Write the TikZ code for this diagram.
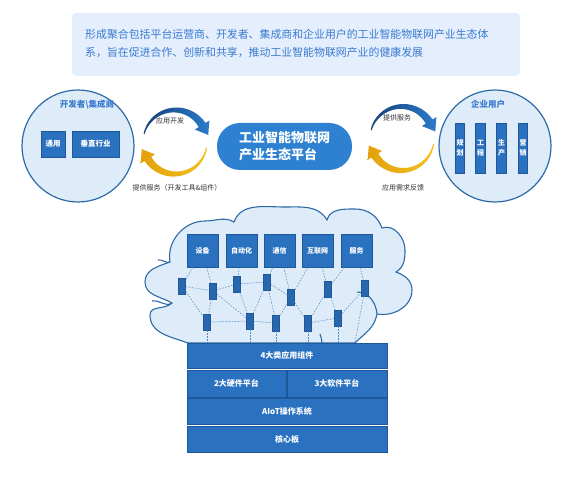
\documentclass[tikz,border=0pt]{standalone}
\usepackage{fontspec}
\setmainfont{Noto Sans CJK SC}
\usetikzlibrary{arrows.meta}

\definecolor{bannerbg}{HTML}{E4EEFC}
\definecolor{bannertext}{HTML}{3A7BD0}
\definecolor{paleblue}{HTML}{DEEBF8}
\definecolor{edgeblue}{HTML}{2C6AA8}
\definecolor{boxblue}{HTML}{2A72C0}
\definecolor{boxedge}{HTML}{1E5898}
\definecolor{pillblue}{HTML}{2E80D0}
\definecolor{arrowdark}{HTML}{163F78}
\definecolor{arrowblue}{HTML}{2B7BCB}
\definecolor{arrowgold}{HTML}{F4C020}
\definecolor{arrowamber}{HTML}{E3A10C}
\definecolor{linkblue}{HTML}{4A8AC6}
\definecolor{labelgray}{HTML}{333333}

\tikzset{
  bluebox/.style={draw=boxedge, fill=boxblue, line width=0.6pt, text=white,
    font=\bfseries\fontsize{7.5}{9}\selectfont, inner sep=0pt},
  layer/.style={bluebox, minimum height=25pt, font=\bfseries\fontsize{8}{9}\selectfont},
  chip/.style={draw=boxedge, fill=boxblue!90!black, line width=0.4pt,
    minimum width=7pt, minimum height=16pt, inner sep=0pt},
  link/.style={linkblue, dash pattern=on 1.6pt off 1.4pt, line width=0.5pt},
  smalltext/.style={text=labelgray, font=\fontsize{7}{8}\selectfont},
  grouplabel/.style={text=bannertext, font=\bfseries\fontsize{8.5}{10}\selectfont},
  bubble/.style={circle, draw=edgeblue, fill=paleblue, line width=1.2pt, minimum size=112pt},
}

\begin{document}
\begin{tikzpicture}[x=1pt, y=1pt]
    \useasboundingbox (0,0) rectangle (575,477);

    % 1. Banner
    \node[fill=bannerbg, rounded corners=4pt, minimum width=448pt, minimum height=63pt, inner sep=0pt] (banner) at (296,432.5) {};
    \node[anchor=west, align=left, text=bannertext, font=\fontsize{10.9}{18}\selectfont, inner sep=0pt] (intro) at (85,434)
        {形成聚合包括平台运营商、开发者、集成商和企业用户的工业智能物联网产业生态体\\系，旨在促进合作、创新和共享，推动工业智能物联网产业的健康发展};

    % 2. Developers (left)
    \node[bubble] (dev) at (78,331) {};
    \node[grouplabel] (devlabel) at (87,372) {开发者\textbackslash 集成商};
    \node[bluebox, minimum width=24pt, minimum height=26pt] (general) at (53,333) {通用};
    \node[bluebox, minimum width=47pt, minimum height=26pt] (vertical) at (95.5,333) {垂直行业};

    % 3. Enterprise users (right)
    \node[bubble] (user) at (495,331) {};
    \node[grouplabel] (userlabel) at (488,373) {企业用户};
    \foreach \x/\first/\second [count=\i] in {460/规/划, 480.5/工/程, 501.5/生/产, 523/营/销}
        \node[bluebox, minimum width=9.5pt, minimum height=50pt, align=center,
              font=\bfseries\fontsize{7}{9.5}\selectfont] (stage\i) at (\x,329) {\first\\\second};

    % 4. Platform
    \node[fill=pillblue, rounded corners=23pt, minimum width=135pt, minimum height=47pt, text=white,
          align=left, font=\bfseries\fontsize{13}{17}\selectfont] (platform) at (284.5,330.5)
        {工业智能物联网\\产业生态平台};

    % 5. Cycles (tapered arrows: tail angle / base angle / tip angle)
    \foreach \cx/\cy in {175/335, 402/338.5} {
        \begin{scope}[shift={(\cx,\cy)}]
            \shade[left color=arrowdark, right color=arrowblue]
                plot[domain=165:32, samples=30] (\x:{32.5+3.5*(165-\x)/133})
                -- (32:40.5) -- (12:34) -- (32:23.5)
                -- plot[domain=32:165, samples=30] (\x:{31.5-3.5*(165-\x)/133}) -- cycle;
            \shade[left color=arrowamber, right color=arrowgold]
                plot[domain=-10:-148, samples=30] (\x:{32.5+3.5*(-10-\x)/138})
                -- (-148:40.5) -- (-168:34) -- (-148:23.5)
                -- plot[domain=-148:-10, samples=30] (\x:{31.5-3.5*(-10-\x)/138}) -- cycle;
        \end{scope}
    }
    \node[smalltext] (devup) at (170,356) {应用开发};
    \node[smalltext] (devdown) at (177,289) {提供服务（开发工具\&组件）};
    \node[smalltext] (userup) at (397,359) {提供服务};
    \node[smalltext] (userdown) at (403,289) {应用需求反馈};

    % 6. Cloud
    \draw[edgeblue, fill=paleblue, line width=1.1pt]
        (188,134) to[out=160,in=270] (150,162) to[out=90,in=225] (172,174)
        to[out=150,in=270] (145,195) to[out=90,in=200] (170,215)
        to[out=100,in=180] (205,256) to[out=0,in=150] (234,255)
        to[out=70,in=180] (285,270) to[out=0,in=120] (327,257)
        to[out=75,in=180] (355,268) to[out=0,in=110] (382,249)
        to[out=20,in=90] (405,227) to[out=270,in=30] (396,205)
        to[out=-20,in=90] (412,187) to[out=270,in=-10] (377,163)
        to[out=260,in=45] (355,134) -- cycle;
    % inner folds
    \begin{scope}[edgeblue, line width=1.1pt]
        \draw (357,185) to[out=0,in=95] (377,163);
        \draw (152,176) to[out=10,in=215] (172,174);
        \draw (158,217) to[out=10,in=200] (170,215);
        \draw (320,143) to[out=-70,in=95] (322,134);
    \end{scope}

    % 7. Domains
    \foreach \name/\x/\txt in {device/202.5/设备, automation/241.5/自动化, comm/279.5/通信,
                               internet/317.5/互联网, service/356.5/服务}
        \node[bluebox, minimum width=31pt, minimum height=33pt, font=\bfseries\fontsize{7}{8}\selectfont]
            (\name) at (\x,226.5) {\txt};

    % 8. Chips
    \foreach \name/\x/\y in {up1/182/191, up2/213/186, up3/237/193, up4/267/195, up5/291/180,
                             up6/328/188, up7/365/189, low1/207/155, low2/250/156, low3/276/154,
                             low4/308/154, low5/338/159}
        \node[chip] (\name) at (\x,\y) {};

    % 9. Layers
    \node[layer, minimum width=200pt] (apps) at (287,121.5) {4大类应用组件};
    \node[layer, minimum width=99pt, minimum height=27pt] (hardware) at (236.5,93.5) {2大硬件平台};
    \node[layer, minimum width=100pt, minimum height=27pt] (software) at (337,93.5) {3大软件平台};
    \node[layer, minimum width=200pt, minimum height=26pt] (os) at (287,66) {AIoT操作系统};
    \node[layer, minimum width=200pt, minimum height=26pt] (core) at (287,38) {核心板};

    % 10. Links
    \foreach \a/\b in {device/up1, device/up2, automation/up3, comm/up4, comm/up5, internet/up5,
                       internet/up6, service/up6, service/up7, up1/up2, up2/up3, up3/up4, up4/up5,
                       up1/low1, up2/low1, up2/low2, up3/low2, up4/low2, up4/low3, up5/low3,
                       up5/low4, up6/low4, up6/low5, up7/low5, low1/low2, low2/low3, low4/low5}
        \draw[link] (\a) -- (\b);
    \foreach \b in {low1, low2, low3, low4, low5}
        \draw[link] (\b) -- (\b |- apps.north);
    \coordinate (drop) at ([xshift=68pt]apps.north);
    \draw[link] (up7) -- (drop);
\end{tikzpicture}
\end{document}
